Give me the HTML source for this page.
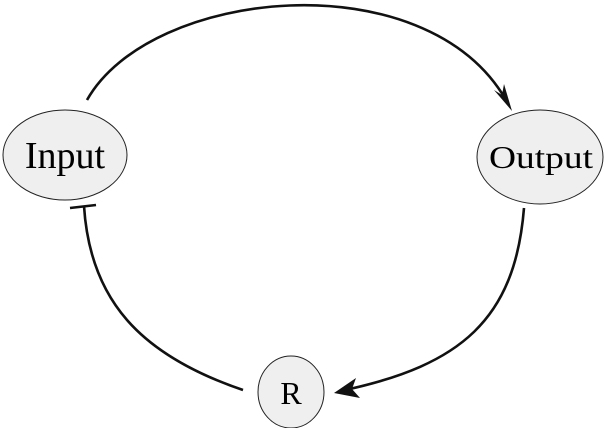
<!DOCTYPE html>
<html><head><meta charset="utf-8"><style>body{margin:0;background:#fff}svg{display:block}</style></head>
<body>
<svg width="604" height="428" viewBox="0 0 604 428" xmlns="http://www.w3.org/2000/svg">
<g fill="none" stroke="#111" stroke-width="2.6">
<path d="M87,100 C150,-12 425,-40 506,100"/>
<path d="M524,208 C515,320 460,365 345,390"/>
<path d="M243,390 C140,355 90,300 84,206"/>
<path d="M70,208 L96,205"/>
</g>
<path d="M494,90 L512,111 L504,84 L502,95 Z" fill="#111"/>
<path d="M356,378 L334,393 L360,398 L352,389 Z" fill="#111"/>
<g fill="#efefef" stroke="#222" stroke-width="1">
<ellipse cx="65" cy="155" rx="62" ry="45"/>
<ellipse cx="540" cy="157" rx="63" ry="47"/>
<ellipse cx="291" cy="392" rx="33" ry="36"/>
</g>
<g font-family="Liberation Serif, serif" fill="#000" text-anchor="middle">
<text x="65" y="168" font-size="38">Input</text>
<text x="541" y="168" font-size="32" textLength="104" lengthAdjust="spacingAndGlyphs">Output</text>
<text x="291" y="404" font-size="32">R</text>
</g>
</svg>
</body></html>
